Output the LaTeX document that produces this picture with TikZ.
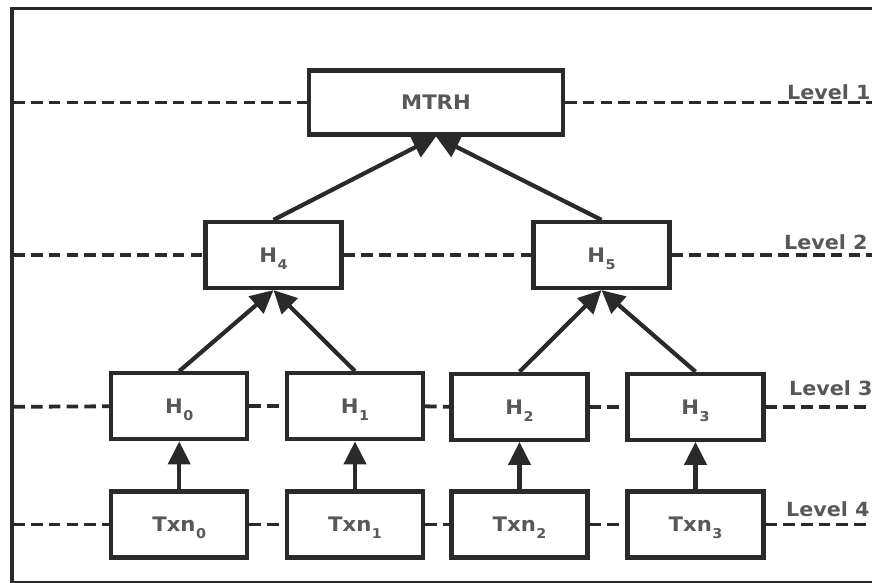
\documentclass[tikz,border=0pt]{standalone}
\usepackage{fontspec}
\setmainfont{DejaVu Sans}[FakeStretch=1.06]
\usetikzlibrary{arrows.meta}
\definecolor{ln}{HTML}{2A2A2A}
\definecolor{tx}{HTML}{585858}
\newcommand\lsub[1]{\kern0.5pt\raisebox{-7pt}[0pt][0pt]{\fontsize{13.5}{13.5}\selectfont #1}}
\begin{document}
\begin{tikzpicture}[x=1pt,y=-1pt,
  box/.style={draw=ln, line width=4.2pt, fill=white, minimum width=136pt, minimum height=66pt,
    inner sep=0pt, font=\bfseries\fontsize{20}{20}\selectfont, text=tx},
  lvl/.style={draw=ln, line width=3.8pt, dash pattern=on 11.5pt off 6.2pt},
  arr/.style={draw=ln, line width=4.2pt, -{Triangle[length=23pt,width=22pt]}},
  lbl/.style={anchor=base west, inner sep=0pt, font=\bfseries\fontsize{19.5}{20}\selectfont, text=tx},
]
\useasboundingbox (0,0) rectangle (872,583);
\begin{scope}
\clip (0,0) rectangle (872,583);
\draw[ln, line width=3.6pt] (11.7,8.5) rectangle (900,582.5);
\end{scope}

% nodes
\node[box, minimum width=254pt, minimum height=64pt] (M) at (436,102.5) {MTRH};
\node[box] (H4) at (273.5,255) {H\lsub{4}};
\node[box] (H5) at (601.5,255) {H\lsub{5}};
\node[box] (H0) at (179.2,406.3) {H\lsub{0}};
\node[box] (H1) at (355,406.3) {H\lsub{1}};
\node[box] (H2) at (519.5,406.8) {H\lsub{2}};
\node[box] (H3) at (695.5,406.8) {H\lsub{3}};
\node[box] (T0) at (179.2,524.5) {Txn\lsub{0}};
\node[box] (T1) at (355,524.5) {Txn\lsub{1}};
\node[box] (T2) at (519.5,524.5) {Txn\lsub{2}};
\node[box] (T3) at (695.5,524.5) {Txn\lsub{3}};

% level lines endpoints
\coordinate (a1) at (13.5,102.5); \coordinate (b1) at (872,102.5);
\coordinate (a2) at (13.5,255);   \coordinate (b2) at (872,255);
\coordinate (a3) at (13.5,406.8); \coordinate (b3) at (872,406.8);
\coordinate (a4) at (13.5,524.5); \coordinate (b4) at (872,524.5);

\draw[lvl] (a1) -- (M.west);
\draw[lvl] (M.east) -- (b1);
\draw[lvl] (a2) -- (H4.west);
\draw[lvl] (H4.east) -- (H5.west);
\draw[lvl] (H5.east) -- (b2);
\draw[lvl] (a3) -- (H0.west);
\draw[lvl] (H0.east) -- (H1.west);
\draw[lvl] (H1.east) -- (H2.west);
\draw[lvl] (H2.east) -- (H3.west);
\draw[lvl] (H3.east) -- (b3);
\draw[lvl] (a4) -- (T0.west);
\draw[lvl] (T0.east) -- (T1.west);
\draw[lvl] (T1.east) -- (T2.west);
\draw[lvl] (T2.east) -- (T3.west);
\draw[lvl] (T3.east) -- (b4);

% labels
\node[lbl] (L1) at (787,100) {Level 1};
\node[lbl] (L2) at (784,249) {Level 2};
\node[lbl] (L3) at (789,395) {Level 3};
\node[lbl] (L4) at (786,516) {Level 4};

% arrows
\draw[arr] (H4.north) -- (M.south);
\draw[arr] (H5.north) -- (M.south);
\draw[arr] (H0.north) -- (H4.south);
\draw[arr] (H1.north) -- (H4.south);
\draw[arr] (H2.north) -- (H5.south);
\draw[arr] (H3.north) -- (H5.south);
\draw[arr] (T0.north) -- (H0.south);
\draw[arr] (T1.north) -- (H1.south);
\draw[arr] (T2.north) -- (H2.south);
\draw[arr] (T3.north) -- (H3.south);
\end{tikzpicture}
\end{document}
